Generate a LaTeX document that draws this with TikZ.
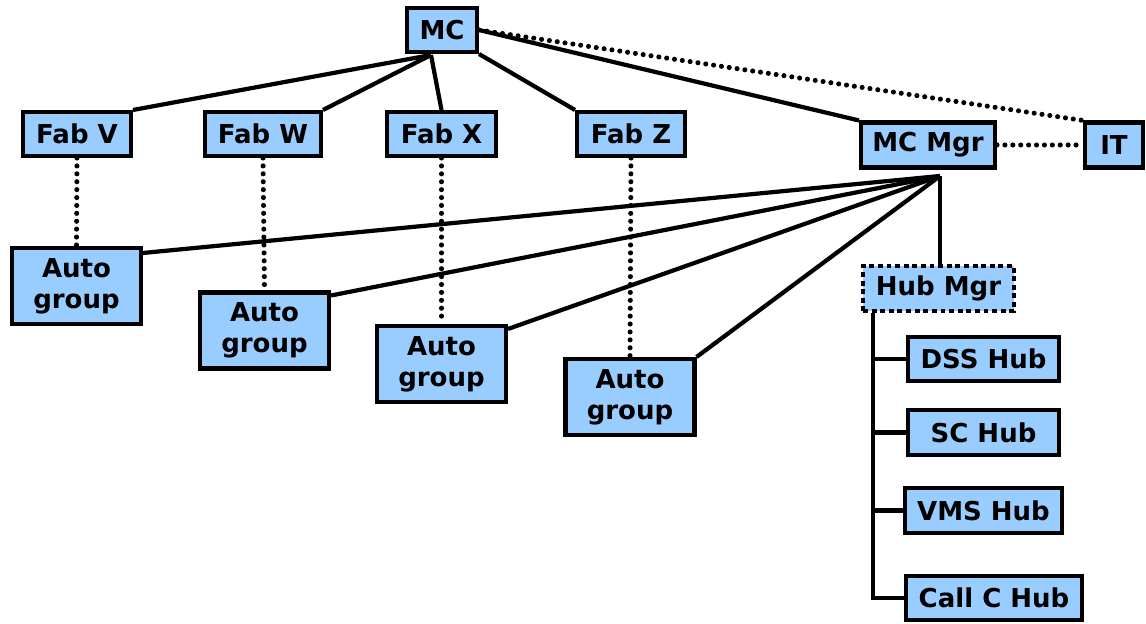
\documentclass[tikz,border=0pt]{standalone}
\usepackage{fontspec}
\setmainfont{DejaVu Sans}
\definecolor{boxblue}{HTML}{99CCFF}

\begin{document}
\begin{tikzpicture}[x=0.02cm, y=-0.02cm,
  box/.style={draw, line width=2.3pt, fill=boxblue, inner sep=0pt, minimum height=0.88cm, align=center, font=\bfseries\fontsize{14.8}{17.8}\selectfont},
  grp/.style={box, minimum width=2.58cm, minimum height=1.52cm},
  link/.style={line width=2.4pt},
  dots/.style={line width=2.9pt, line cap=round, dash pattern=on 0pt off 4.5pt}]
\useasboundingbox (0,0) rectangle (1146,624);
\node[box, minimum width=1.4cm] (MC) at (442,30) {MC};
\node[box, minimum width=2.16cm] (FabV) at (77,134) {Fab V};
\node[box, minimum width=2.32cm] (FabW) at (263,134) {Fab W};
\node[box, minimum width=2.18cm] (FabX) at (441.5,134) {Fab X};
\node[box, minimum width=2.16cm] (FabZ) at (631,134) {Fab Z};
\node[box, minimum width=2.68cm, minimum height=0.9cm] (MCMgr) at (928,145) {MC Mgr};
\node[box, minimum width=1.16cm, minimum height=0.9cm] (IT) at (1114,145) {IT};
\node[grp] (AgV) at (76.5,286) {Auto\\group};
\node[grp] (AgW) at (264.5,330.5) {Auto\\group};
\node[grp] (AgX) at (441.5,364) {Auto\\group};
\node[grp] (AgZ) at (630,397) {Auto\\group};
\node[box, minimum width=3.02cm, minimum height=0.9cm, dash pattern=on 2.8pt off 2.1pt] (HubMgr) at (938.5,288.5) {Hub Mgr};
\node[box, minimum width=3.02cm] (DSS) at (983.5,359) {DSS Hub};
\node[box, minimum width=3.02cm, minimum height=0.9cm] (SC) at (983.5,432.5) {SC Hub};
\node[box, minimum width=3.14cm, minimum height=0.9cm] (VMS) at (983.5,510.5) {VMS Hub};
\node[box, minimum width=3.52cm] (CallC) at (994,598) {Call C Hub};
\coordinate (mcb) at (431,55);
\coordinate (mgb) at (940,176);
\coordinate (hb) at (873,313);
\draw[link] (mcb) -- (FabV.north east);
\draw[link] (mcb) -- (FabW.north east);
\draw[link] (mcb) -- (FabX.north);
\draw[link] (MC.south east) -- (FabZ.north west);
\draw[link] (MC.east) -- (MCMgr.north west);
\draw[dots] (MC.east) -- (IT.north west);
\draw[dots] (MCMgr.east) -- (IT.west);
\draw[dots] (FabV.south) -- (AgV.north);
\draw[dots] (FabW.south) -- (AgW.north);
\draw[dots] (FabX.south) -- (AgX.north);
\draw[dots] (FabZ.south) -- (AgZ.north);
\draw[link] (mgb) -- ([yshift=-0.14cm]AgV.north east);
\draw[link] (mgb) -- ([yshift=-0.1cm]AgW.north east);
\draw[link] (mgb) -- ([yshift=-0.1cm]AgX.north east);
\draw[link] (mgb) -- (AgZ.north east);
\draw[link] (mgb) -- (mgb |- HubMgr.north);
\draw[link] (hb) |- (DSS.west);
\draw[link] (hb) |- (SC.west);
\draw[link] (hb) |- (VMS.west);
\draw[link] (hb) |- (CallC.west);
\end{tikzpicture}
\end{document}
